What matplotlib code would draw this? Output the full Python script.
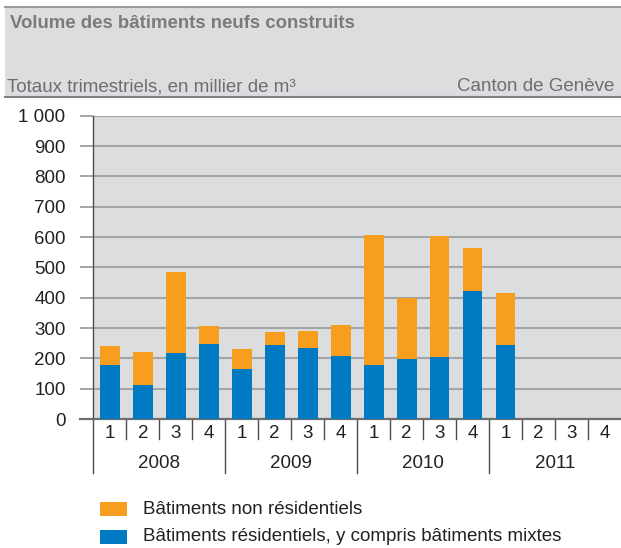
import numpy as np
import matplotlib
matplotlib.use("Agg")
import matplotlib.pyplot as plt
from matplotlib.patches import Rectangle
from matplotlib.lines import Line2D
from matplotlib.transforms import blended_transform_factory

plt.rcParams['font.family'] = ['Liberation Sans', 'DejaVu Sans']

years = ["2008", "2009", "2010", "2011"]
quarters = ["1", "2", "3", "4"]
residential = [178, 112, 217, 247, 165, 244, 234, 208, 178, 198, 204, 422, 244, np.nan, np.nan, np.nan]
non_residential = [63, 109, 268, 60, 66, 43, 56, 102, 429, 202, 399, 142, 171, np.nan, np.nan, np.nan]
yticks = [0, 100, 200, 300, 400, 500, 600, 700, 800, 900, 1000]
ytick_labels = ["0", "100", "200", "300", "400", "500", "600", "700", "800", "900", "1 000"]
series_labels = ["Bâtiments non résidentiels", "Bâtiments résidentiels, y compris bâtiments mixtes"]
title = "Volume des bâtiments neufs construits"
subtitle = "Totaux trimestriels, en millier de m³"
region = "Canton de Genève"

ORANGE = "#F79E1E"
BLUE = "#007BC3"
BG = "#DCDDDF"
GRID = "#A4A5A7"
DARK = "#4D4D4F"
TXT = "#222222"
GRAYTXT = "#6D6E70"
TITLETXT = "#7A7B7D"

FS = 13.5

W, H = 621, 548
fig = plt.figure(figsize=(W / 100, H / 100), dpi=100)

def fx(px):
    return px / W

def fy(py):
    return 1 - py / H

# Header band
fig.patches.append(Rectangle((fx(5), fy(97)), fx(621) - fx(5), fy(6) - fy(97),
                             transform=fig.transFigure, facecolor=BG, edgecolor="none", zorder=0))
fig.lines.append(Line2D([fx(5), 1], [fy(7), fy(7)], transform=fig.transFigure, color="#9A9B9D", lw=1.5))
fig.lines.append(Line2D([fx(5), 1], [fy(97), fy(97)], transform=fig.transFigure, color="#7F8083", lw=1.5))
fig.text(fx(10), fy(24), title, fontsize=13.4, fontweight="bold", color=TITLETXT, va="center", ha="left")
fig.text(fx(7), fy(87), subtitle, fontsize=FS, color=GRAYTXT, va="center", ha="left")
fig.text(fx(614), fy(87), region, fontsize=FS, color=GRAYTXT, va="center", ha="right")

# Axes
left, right, top, bottom = 93.3, 621, 115.7, 419
ax = fig.add_axes([fx(left), fy(bottom), fx(right) - fx(left), fy(top) - fy(bottom)])
ax.set_facecolor(BG)

n = len(years) * len(quarters)
x = np.arange(n)
res = np.array(residential, dtype=float)
nres = np.array(non_residential, dtype=float)
ax.bar(x, res, width=0.6, color=BLUE, zorder=3)
ax.bar(x, nres, width=0.6, bottom=res, color=ORANGE, zorder=3)

ax.set_xlim(-0.5, n - 0.5)
ax.set_ylim(0, 1000)
ax.set_yticks(yticks)
ax.set_yticklabels(ytick_labels, fontsize=FS, color=TXT)
ax.tick_params(axis="y", length=9.5, width=1.4, color=GRID, pad=10.5)
ax.set_xticks([])
ax.grid(axis="y", color=GRID, lw=1.5, zorder=1)
for s in ["top", "right"]:
    ax.spines[s].set_visible(False)
ax.spines["left"].set_color(DARK)
ax.spines["left"].set_linewidth(1.0)
ax.spines["bottom"].set_color("#6D6E70")
ax.spines["bottom"].set_linewidth(1.6)
ax.spines["left"].set_zorder(4)

fig.lines.append(Line2D([fx(80), fx(left)], [fy(bottom), fy(bottom)], transform=fig.transFigure,
                        color="#6D6E70", lw=1.6))

ah = bottom - top
trans = blended_transform_factory(ax.transData, ax.transAxes)
for i in range(n):
    ax.text(i, -14 / ah, quarters[i % 4], transform=trans, ha="center", va="center",
            fontsize=FS, color=TXT)
    if i > 0:
        if i % 4 == 0:
            ax.plot([i - 0.5, i - 0.5], [0, -54 / ah], transform=trans, color=DARK, lw=1.0, clip_on=False)
        else:
            ax.plot([i - 0.5, i - 0.5], [0, -20 / ah], transform=trans, color=DARK, lw=1.0, clip_on=False)
ax.plot([-0.5, -0.5], [0, -54 / ah], transform=trans, color=DARK, lw=1.0, clip_on=False)
for k, yr in enumerate(years):
    ax.text(4 * k + 1.5, -44 / ah, yr, transform=trans, ha="center", va="center",
            fontsize=FS, color=TXT)

# Legend
for j, (lab, col) in enumerate(zip(series_labels, [ORANGE, BLUE])):
    yc = 509 + 27.5 * j
    fig.patches.append(Rectangle((fx(100), fy(yc + 7)), fx(127) - fx(100), fy(yc - 7) - fy(yc + 7),
                                 transform=fig.transFigure, facecolor=col, edgecolor="none"))
    fig.text(fx(143), fy(yc), lab, fontsize=FS, color=TXT, va="center", ha="left")

fig.savefig("out.png", dpi=100)
